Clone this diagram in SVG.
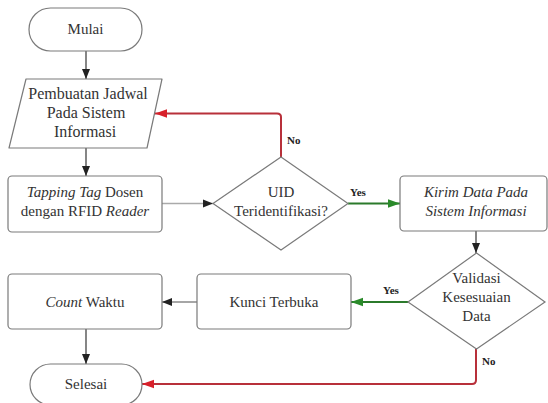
<svg xmlns="http://www.w3.org/2000/svg" width="548" height="403" viewBox="0 0 548 403">
<style>
.box{fill:#fff;stroke:#7a7a7a;stroke-width:1.2}
.t{font-family:"Liberation Serif",serif;font-size:15px;fill:#333;text-anchor:middle}
.b{font-size:16px}
.i{font-style:italic}
.lbl{font-family:"Liberation Serif",serif;font-size:11px;font-weight:bold;fill:#222}
.c{fill:none;stroke-width:1.3}
.k{stroke:#444}
.lg{stroke:#aaa}
.r{stroke:#b8303a;stroke-width:2}
.g{stroke:#2b7a2b;stroke-width:2}
</style>
<defs>
<marker id="ak" viewBox="0 0 10 10" refX="10" refY="5" markerWidth="10" markerHeight="10" markerUnits="userSpaceOnUse" orient="auto"><path d="M0,1 L10,5 L0,9 Z" fill="#222"/></marker>
<marker id="ar" viewBox="0 0 10 10" refX="10" refY="5" markerWidth="12" markerHeight="12" markerUnits="userSpaceOnUse" orient="auto"><path d="M0,1.5 L10,5 L0,8.5 Z" fill="#d8202a"/></marker>
<marker id="ag" viewBox="0 0 10 10" refX="10" refY="5" markerWidth="12" markerHeight="12" markerUnits="userSpaceOnUse" orient="auto"><path d="M0,1.5 L10,5 L0,8.5 Z" fill="#2a8a2a"/></marker>
</defs>
<rect width="548" height="403" fill="#fff"/>
<g id="connectors">
<path class="c k" d="M86,51 V79" marker-end="url(#ak)"/>
<path class="c k" d="M86,148 V176" marker-end="url(#ak)"/>
<path class="c lg" d="M162,203.5 H213" marker-end="url(#ak)"/>
<path class="c g" d="M348,203.5 H400" marker-end="url(#ag)"/>
<path class="c r" d="M281,157 V117 Q281,113.5 277,113.5 H155" marker-end="url(#ar)"/>
<path class="c k" d="M476,231 V253" marker-end="url(#ak)"/>
<path class="c g" d="M408,302 H351" marker-end="url(#ag)"/>
<path class="c" stroke="#888" d="M197,302 H162" marker-end="url(#ak)"/>
<path class="c k" d="M86,329 V364" marker-end="url(#ak)"/>
<path class="c r" d="M476,349 V380 Q476,384 472,384 H142" marker-end="url(#ar)"/>
<text class="lbl" x="287" y="144">No</text>
<text class="lbl" x="350" y="196">Yes</text>
<text class="lbl" x="383" y="294">Yes</text>
<text class="lbl" x="482" y="365">No</text>
</g>
<g id="mulai">
<rect class="box" x="29" y="8" width="113" height="43" rx="21.5"/>
<text class="t" x="85.5" y="34">Mulai</text>
</g>
<g id="pembuatan">
<polygon class="box" points="26,79 162,79 147,148 9,148" stroke-linejoin="round"/>
<text class="t b" x="88" y="99">Pembuatan Jadwal</text>
<text class="t b" x="86" y="118">Pada Sistem</text>
<text class="t b" x="85" y="137">Informasi</text>
</g>
<g id="tapping">
<rect class="box" x="8" y="176" width="154" height="56" rx="4"/>
<text class="t" x="85" y="197"><tspan class="i">Tapping Tag</tspan> Dosen</text>
<text class="t" x="85" y="216">dengan RFID <tspan class="i">Reader</tspan></text>
</g>
<g id="uid">
<polygon class="box" points="281,157 348,203.5 281,250 213,203.5"/>
<text class="t" x="281" y="197">UID</text>
<text class="t" x="281" y="216">Teridentifikasi?</text>
</g>
<g id="kirim">
<rect class="box" x="400" y="176" width="147" height="55" rx="4"/>
<text class="t i" x="476" y="197">Kirim Data Pada</text>
<text class="t i" x="476" y="216">Sistem Informasi</text>
</g>
<g id="validasi">
<polygon class="box" points="476.5,253 545,302 476.5,349 408,302"/>
<text class="t" x="476.5" y="283">Validasi</text>
<text class="t" x="476.5" y="302">Kesesuaian</text>
<text class="t" x="476.5" y="321">Data</text>
</g>
<g id="kunci">
<rect class="box" x="197" y="274" width="154" height="55" rx="4"/>
<text class="t" x="274" y="307">Kunci Terbuka</text>
</g>
<g id="count">
<rect class="box" x="8" y="274" width="154" height="55" rx="4"/>
<text class="t" x="85" y="307"><tspan class="i">Count</tspan> Waktu</text>
</g>
<g id="selesai">
<rect class="box" x="30" y="364" width="112" height="41" rx="20.5"/>
<text class="t" x="86" y="389">Selesai</text>
</g>
</svg>
